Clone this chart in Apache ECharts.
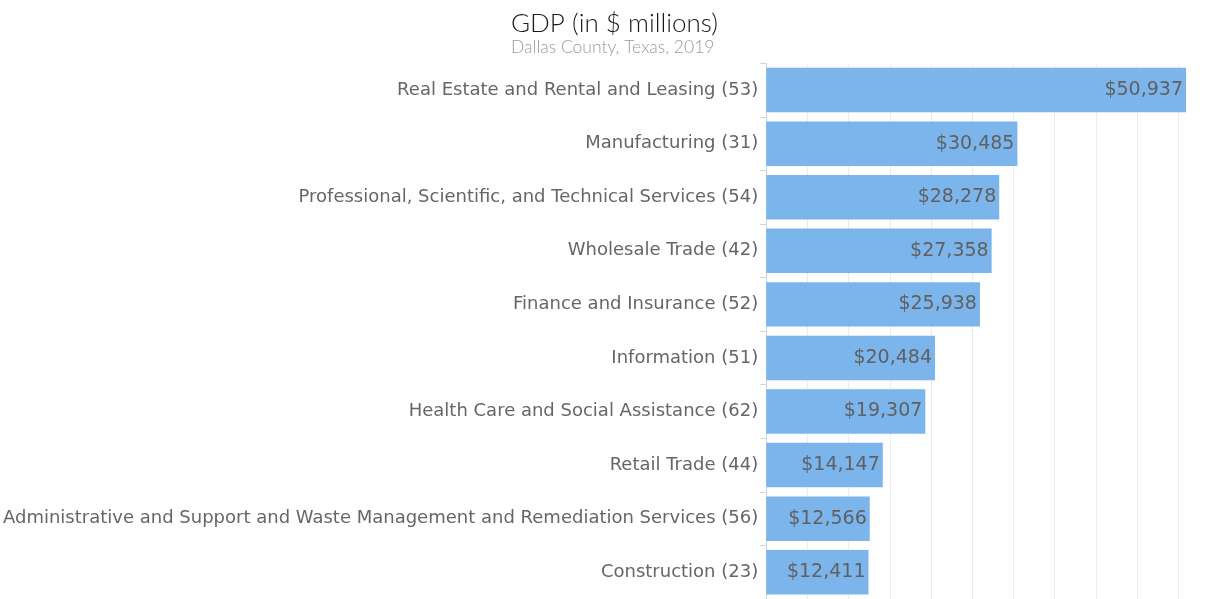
<!DOCTYPE html>
<html>
<head>
<meta charset="utf-8">
<script src="https://cdn.jsdelivr.net/npm/echarts@6/dist/echarts.min.js"></script>
<style>
html, body { margin: 0; padding: 0; background: #fff; }
#chart { width: 1207px; height: 599px; }
</style>
</head>
<body>
<div id="chart"></div>
<script>
// industries, top to bottom
var categories = [
    'Real Estate and Rental and Leasing (53)',
    'Manufacturing (31)',
    'Professional, Scientific, and Technical Services (54)',
    'Wholesale Trade (42)',
    'Finance and Insurance (52)',
    'Information (51)',
    'Health Care and Social Assistance (62)',
    'Retail Trade (44)',
    'Administrative and Support and Waste Management and Remediation Services (56)',
    'Construction (23)'
];
var gdpValues = [50937, 30485, 28278, 27358, 25938, 20484, 19307, 14147, 12566, 12411];

var chart = echarts.init(document.getElementById('chart'));
var option = {
    backgroundColor: '#ffffff',
    animation: false,
    title: {
        text: 'GDP (in $ millions)',
        subtext: 'Dallas County, Texas, 2019',
        left: 506,
        top: 6,
        itemGap: 1,
        textStyle: {
            fontFamily: 'Lato',
            fontWeight: 300,
            fontSize: 26,
            color: '#1a1a1a'
        },
        subtextStyle: {
            fontFamily: 'Lato',
            fontWeight: 300,
            fontSize: 17.5,
            color: '#9a9a9a'
        }
    },
    grid: {
        left: 765,
        right: 20.5,
        top: 63.3,
        height: 539.4,
        containLabel: false
    },
    xAxis: {
        type: 'value',
        min: 0,
        max: 51000,
        interval: 5000,
        axisLine: { show: false },
        axisTick: { show: false },
        axisLabel: { show: false },
        splitLine: {
            show: true,
            showMaxLine: false,
            lineStyle: { color: '#ececec', width: 1 }
        }
    },
    yAxis: {
        type: 'category',
        inverse: true,
        data: categories,
        axisLine: { show: true, lineStyle: { color: '#ccd6eb' } },
        axisTick: { show: true, length: 6, lineStyle: { color: '#ccd6eb' } },
        axisLabel: {
            margin: 8,
            fontFamily: 'DejaVu Sans',
            fontSize: 18,
            color: '#666666'
        }
    },
    series: [
        {
            type: 'bar',
            data: gdpValues,
            barCategoryGap: '17%',
            itemStyle: { color: '#7cb5ec' },
            label: {
                show: true,
                position: 'insideRight',
                distance: 3,
                fontFamily: 'DejaVu Sans',
                fontSize: 19,
                color: '#606060',
                formatter: function (p) {
                    return '$' + p.value.toLocaleString('en-US');
                }
            }
        }
    ]
};
chart.setOption(option);
</script>
</body>
</html>
